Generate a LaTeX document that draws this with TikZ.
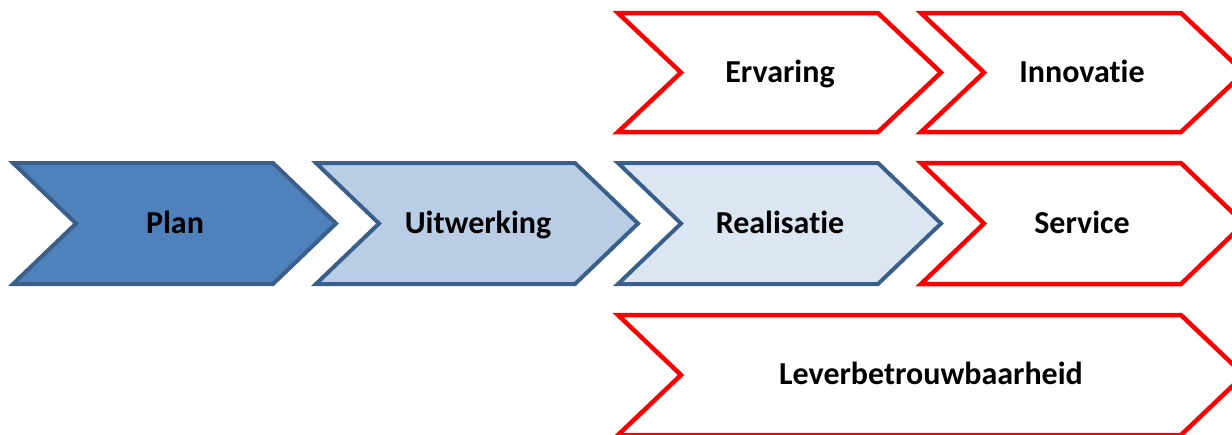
\documentclass[tikz,border=0pt]{standalone}
\usepackage{fontspec}
\setmainfont{Carlito}[Ligatures={NoCommon,NoRare,NoContextual}]
\definecolor{planfill}{HTML}{4F81BD}
\definecolor{uitfill}{HTML}{B9CDE5}
\definecolor{realfill}{HTML}{DCE6F2}
\definecolor{bluestroke}{HTML}{3A5F8B}
\definecolor{redstroke}{HTML}{FF0000}
\tikzset{
  bluechev/.style={draw=bluestroke, line width=4pt, line join=miter},
  redchev/.style={draw=redstroke, fill=white, line width=4.5pt, line join=miter},
  label/.style={font=\fontsize{32}{36}\selectfont\bfseries, text=black, inner sep=0pt, anchor=base}
}
% #1 x, #2 y, #3 width, #4 height, #5 style
\newcommand{\chevshape}[5]{%
  \draw[#5] (#1,#2) -- ++(#3-63,0) -- ++(63,#4/2) -- ++(-63,#4/2) -- ++(-#3+63,0) -- ++(63,-#4/2) -- cycle;}
\begin{document}
\begin{tikzpicture}[x=1pt,y=-1pt]
\useasboundingbox (0,0) rectangle (1232,434);
\clip (0,0) rectangle (1232,434);
% row 2 (blue)
\chevshape{13}{163}{323}{121}{bluechev, fill=planfill}
\chevshape{316}{163}{322}{121}{bluechev, fill=uitfill}
\chevshape{618}{163}{323}{121}{bluechev, fill=realfill}
\chevshape{921}{163}{323}{121}{redchev}
% row 1 (red)
\chevshape{618}{13}{323}{119}{redchev}
\chevshape{921}{13}{323}{119}{redchev}
% row 3 (red)
\chevshape{618}{315}{626}{120}{redchev}
% labels
\node[label] (plan) at (175,233) {Plan};
\node[label] (uitwerking) at (478,233) {Uitwerking};
\node[label] (realisatie) at (780,233) {Realisatie};
\node[label] (service) at (1082,233) {Service};
\node[label] (ervaring) at (780,82) {Ervaring};
\node[label] (innovatie) at (1082,82) {Innovatie};
\node[label] (lever) at (931,384) {Leverbetrouwbaarheid};
\end{tikzpicture}
\end{document}
